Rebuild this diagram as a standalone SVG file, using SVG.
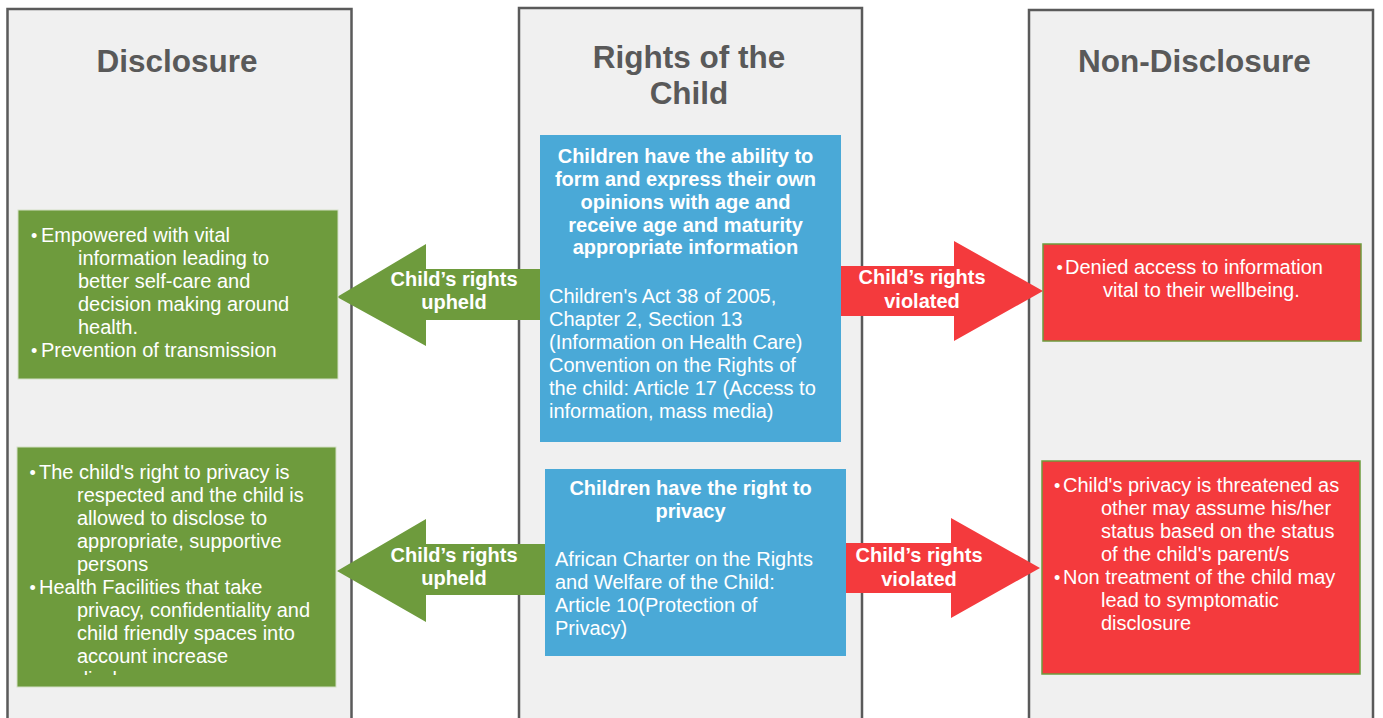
<svg xmlns="http://www.w3.org/2000/svg" width="1383" height="718" viewBox="0 0 1383 718">
<defs>
<style>
.col{fill:#f0f0f0;stroke:#5a5a5a;stroke-width:2.5}
.title{font-family:"Liberation Sans",Arial,sans-serif;font-weight:bold;font-size:31.5px;fill:#595959;text-anchor:middle}
.t{font-family:"Liberation Sans",Arial,sans-serif;font-size:20px;fill:#ffffff}
.bul{font-size:18px}
.b{font-family:"Liberation Sans",Arial,sans-serif;font-size:20px;font-weight:bold;fill:#ffffff;text-anchor:middle}
.green{fill:#6e9b3d}
.red{fill:#f43a3d}
.blue{fill:#4aa9d7}
.gbox{fill:#6e9b3d;stroke:#d3dfc6;stroke-width:1}
.rbox{fill:#f43a3d;stroke:#6e9b3d;stroke-width:1.5}
</style>
<clipPath id="clipG2"><rect x="17" y="447" width="319" height="228"/></clipPath>
</defs>
<rect width="1383" height="718" fill="#ffffff"/>
<g id="col-disclosure">
<rect class="col" x="7.5" y="9" width="344" height="720"/>
<text class="title" x="177" y="72">Disclosure</text>
</g>
<g id="col-rights">
<rect class="col" x="519" y="8" width="343" height="720"/>
<text class="title" x="689" y="68">Rights of the</text>
<text class="title" x="689" y="104">Child</text>
</g>
<g id="col-nondisclosure">
<rect class="col" x="1029" y="10" width="344" height="720"/>
<text class="title" x="1194.5" y="72">Non-Disclosure</text>
</g>
<g id="connectors">
<g id="arrow-upheld-1">
<polygon class="green" points="337,297 426,244 426,269 545,269 545,320 426,320 426,346"/>
<text class="b" x="454" y="286">Child’s rights</text>
<text class="b" x="454" y="309">upheld</text>
</g>
<g id="arrow-violated-1">
<polygon class="red" points="835,266 954,266 954,241 1043,291 954,341 954,316 835,316"/>
<text class="b" x="922" y="284">Child’s rights</text>
<text class="b" x="922" y="308">violated</text>
</g>
<g id="arrow-upheld-2">
<polygon class="green" points="337,571 426,519 426,544 550,544 550,595 426,595 426,622"/>
<text class="b" x="454" y="562">Child’s rights</text>
<text class="b" x="454" y="585">upheld</text>
</g>
<g id="arrow-violated-2">
<polygon class="red" points="840,543 951,543 951,518 1040,568 951,618 951,593 840,593"/>
<text class="b" x="919" y="562">Child’s rights</text>
<text class="b" x="919" y="586">violated</text>
</g>
</g>
<g id="rights-info">
<rect class="blue" x="540" y="135" width="301" height="307"/>
<text class="b" x="685.5" y="163">Children have the ability to</text>
<text class="b" x="685.5" y="186">form and express their own</text>
<text class="b" x="685.5" y="209">opinions with age and</text>
<text class="b" x="685.5" y="231.5">receive age and maturity</text>
<text class="b" x="685.5" y="254">appropriate information</text>
<text class="t" x="549" y="303">Children's Act 38 of 2005,</text>
<text class="t" x="549" y="326">Chapter 2, Section 13</text>
<text class="t" x="549" y="349">(Information on Health Care)</text>
<text class="t" x="549" y="372">Convention on the Rights of</text>
<text class="t" x="549" y="395">the child: Article 17 (Access to</text>
<text class="t" x="549" y="418">information, mass media)</text>
</g>
<g id="rights-privacy">
<rect class="blue" x="545" y="469" width="301" height="187"/>
<text class="b" x="690.5" y="495">Children have the right to</text>
<text class="b" x="690.5" y="518">privacy</text>
<text class="t" x="555" y="566">African Charter on the Rights</text>
<text class="t" x="555" y="589">and Welfare of the Child:</text>
<text class="t" x="555" y="612">Article 10(Protection of</text>
<text class="t" x="555" y="635">Privacy)</text>
</g>
<g id="disclosure-info">
<rect class="gbox" x="18" y="210" width="320" height="169"/>
<text class="t"><tspan class="bul" x="31" y="241.5">•</tspan><tspan x="41" y="242">Empowered with vital</tspan><tspan x="78" y="265">information leading to</tspan><tspan x="78" y="288">better self-care and</tspan><tspan x="78" y="311">decision making around</tspan><tspan x="78" y="334">health.</tspan><tspan class="bul" x="31" y="356.5">•</tspan><tspan x="41" y="357">Prevention of transmission</tspan></text>
</g>
<g id="disclosure-privacy">
<rect class="gbox" x="17" y="447" width="319" height="240"/>
<text class="t" clip-path="url(#clipG2)"><tspan class="bul" x="29.5" y="478.5">•</tspan><tspan x="39" y="479">The child's right to privacy is</tspan><tspan x="77" y="502">respected and the child is</tspan><tspan x="77" y="525">allowed to disclose to</tspan><tspan x="77" y="548">appropriate, supportive</tspan><tspan x="77" y="571">persons</tspan><tspan class="bul" x="29.5" y="593.5">•</tspan><tspan x="39" y="594">Health Facilities that take</tspan><tspan x="77" y="617">privacy, confidentiality and</tspan><tspan x="77" y="640">child friendly spaces into</tspan><tspan x="77" y="663">account increase</tspan><tspan x="77" y="686">disclosure</tspan></text>
</g>
<g id="nondisclosure-info">
<rect class="rbox" x="1043" y="244" width="318" height="97"/>
<text class="t"><tspan class="bul" x="1056.5" y="273.5">•</tspan><tspan x="1065" y="274">Denied access to information</tspan><tspan x="1103" y="297">vital to their wellbeing.</tspan></text>
</g>
<g id="nondisclosure-privacy">
<rect class="rbox" x="1042" y="461" width="318" height="213"/>
<text class="t"><tspan class="bul" x="1054" y="491.5">•</tspan><tspan x="1063" y="492">Child's privacy is threatened as</tspan><tspan x="1101" y="515">other may assume his/her</tspan><tspan x="1101" y="538">status based on the status</tspan><tspan x="1101" y="561">of the child's parent/s</tspan><tspan class="bul" x="1054" y="583.5">•</tspan><tspan x="1063" y="584">Non treatment of the child may</tspan><tspan x="1101" y="607">lead to symptomatic</tspan><tspan x="1101" y="630">disclosure</tspan></text>
</g>
</svg>
